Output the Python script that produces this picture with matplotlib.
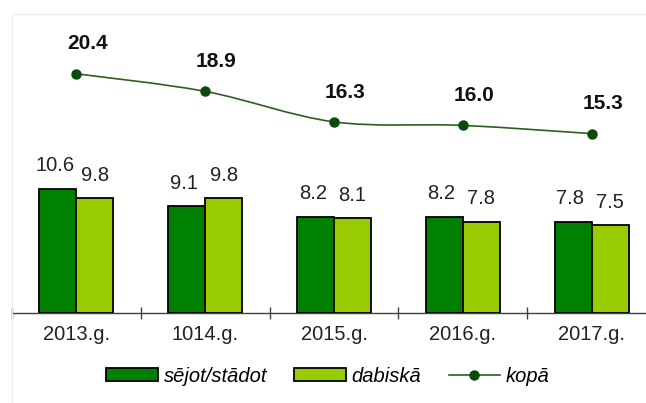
import numpy as np
import matplotlib
matplotlib.use("Agg")
import matplotlib.pyplot as plt
from matplotlib.path import Path
from matplotlib.patches import PathPatch, Rectangle
from matplotlib.lines import Line2D

plt.rcParams['font.family'] = ['Liberation Sans', 'DejaVu Sans']

# data
years = ["2013.g.", "1014.g.", "2015.g.", "2016.g.", "2017.g."]
sown = [10.6, 9.1, 8.2, 8.2, 7.8]        # sējot/stādot
natural = [9.8, 9.8, 8.1, 7.8, 7.5]      # dabiskā
total = [20.4, 18.9, 16.3, 16.0, 15.3]   # kopā

dark = "#008000"
light = "#99cc00"
linecol = "#2f5f1f"
markcol = "#0a4a0a"
fs = 14.5

fig = plt.figure(figsize=(6.46, 4.03), dpi=100)
# faint chart-area border
fig.patches.append(Rectangle((12 / 646, -0.1), 1.0, (403 - 14) / 403 + 0.1,
                             transform=fig.transFigure, fill=False,
                             edgecolor="#ececec", lw=0.8))
ax = fig.add_axes([12 / 646, (403 - 313) / 403, 644 / 646, (313 - 14) / 403])

x = np.arange(len(years))
w = 0.287
ax.bar(x - w / 2, sown, w, color=dark, edgecolor="black", lw=1.3, zorder=3)
ax.bar(x + w / 2, natural, w, color=light, edgecolor="black", lw=1.3, zorder=3)

for xi, v in zip(x, sown):
    ax.annotate(f"{v:.1f}", (xi - w / 2, v), xytext=(-2, 16.5), textcoords="offset points",
                ha="center", va="center", fontsize=fs, color="#222222")
for xi, v in zip(x, natural):
    ax.annotate(f"{v:.1f}", (xi + w / 2, v), xytext=(0, 16.5), textcoords="offset points",
                ha="center", va="center", fontsize=fs, color="#222222")

# smoothed total line (Catmull-Rom style bezier, like Excel smoothing)
pts = np.column_stack([x, total]).astype(float)
verts = [tuple(pts[0])]
codes = [Path.MOVETO]
n = len(pts)
for i in range(n - 1):
    p0 = pts[max(i - 1, 0)]
    p1 = pts[i]
    p2 = pts[i + 1]
    p3 = pts[min(i + 2, n - 1)]
    c1 = p1 + (p2 - p0) / 6
    c2 = p2 - (p3 - p1) / 6
    verts += [tuple(c1), tuple(c2), tuple(p2)]
    codes += [Path.CURVE4] * 3
ax.add_patch(PathPatch(Path(verts, codes), fill=False, edgecolor=linecol, lw=1.2, zorder=4))
ax.plot(x, total, ls="none", marker="o", ms=6.5, color=markcol, zorder=5)
for xi, v in zip(x, total):
    ax.annotate(f"{v:.1f}", (xi, v), xytext=(8, 21.5), textcoords="offset points",
                ha="center", va="center", fontsize=15, fontweight="bold", color="#111111")

ax.set_xlim(-0.5, 4.5)
ax.set_ylim(0, 25.5)
ax.set_yticks([])
for s in ["top", "right", "left"]:
    ax.spines[s].set_visible(False)
ax.spines["bottom"].set_color("#404040")
ax.spines["bottom"].set_linewidth(1.0)
ax.set_xticks(x)
ax.set_xticklabels(years, fontsize=fs, color="#222222")
ax.tick_params(axis="x", which="major", length=0, pad=9)
ax.set_xticks(np.arange(-0.5, 5, 1.0), minor=True)
ax.tick_params(axis="x", which="minor", length=8.5, direction="inout", color="#404040", width=1.0)

handles = [
    Rectangle((0, 0), 1, 1, facecolor=dark, edgecolor="black", lw=1.3),
    Rectangle((0, 0), 1, 1, facecolor=light, edgecolor="black", lw=1.3),
    Line2D([], [], color=linecol, lw=1.2, marker="o", ms=6.5, mfc=markcol, mec=markcol),
]
fig.legend(handles, ["sējot/stādot", "dabiskā", "kopā"], loc="center",
           bbox_to_anchor=(0.508, (403 - 376) / 403), ncol=3, frameon=False,
           prop={"style": "italic", "size": fs}, handlelength=2.55, handleheight=0.6,
           handletextpad=0.3, columnspacing=1.35)

fig.savefig("out.png", dpi=100)
